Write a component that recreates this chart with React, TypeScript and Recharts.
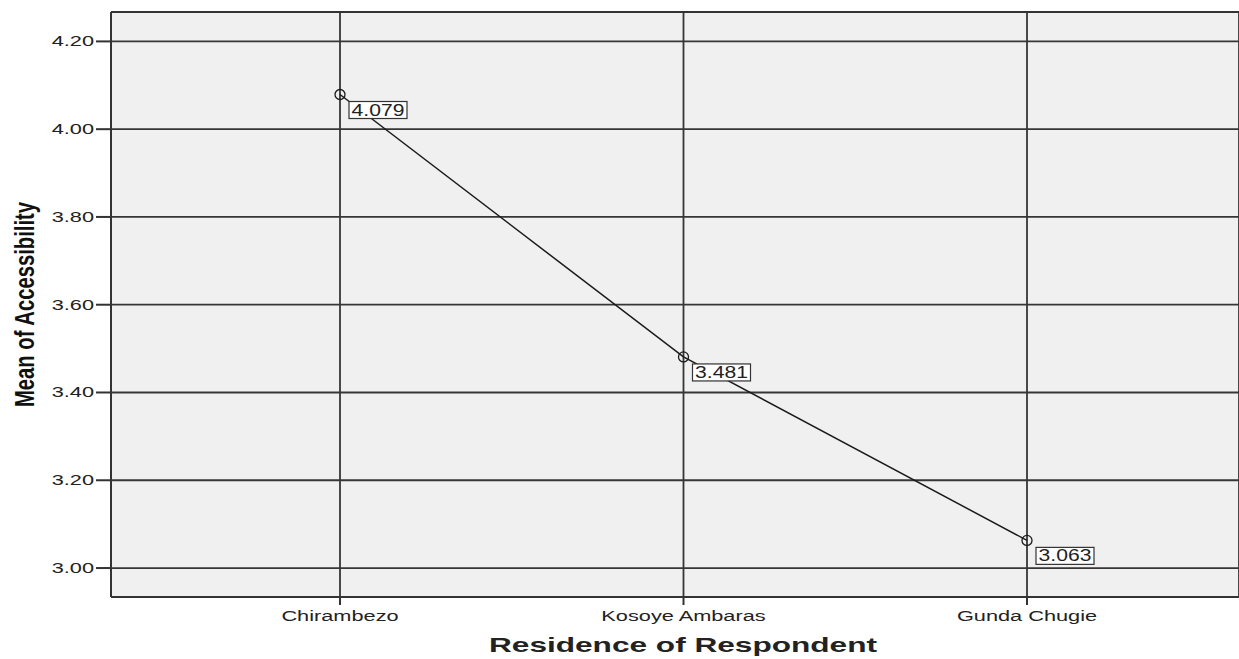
import { LineChart, Line, XAxis, YAxis, CartesianGrid, LabelList, ReferenceLine } from 'recharts'

const RESIDENCES = ['Chirambezo', 'Kosoye Ambaras', 'Gunda Chugie']
const MEAN_ACCESSIBILITY = [4.079, 3.481, 3.063]
const Y_TICKS = [3.0, 3.2, 3.4, 3.6, 3.8, 4.0, 4.2]

const data = RESIDENCES.map((name, i) => ({ name, mean: MEAN_ACCESSIBILITY[i] }))

const FONT = '"Liberation Sans", Arial, sans-serif'
const INK = '#222'

// the reference text is stretched sideways, so scale glyphs along x
function WideText({ x, y, s, anchor, size, bold, children }: any) {
  return (
    <text
      transform={`translate(${x},${y}) scale(${s},1)`}
      textAnchor={anchor} fontSize={size} fontWeight={bold ? 700 : 400}
      fontFamily={FONT} fill={INK}
    >
      {children}
    </text>
  )
}

function XTick(props: any) {
  const { x, y, payload } = props
  return <WideText x={x} y={y + 14} s={1.45} anchor="middle" size={15}>{payload.value}</WideText>
}

function YTick(props: any) {
  const { x, y, payload } = props
  return <WideText x={x} y={y + 5} s={1.45} anchor="end" size={15}>{Number(payload.value).toFixed(2)}</WideText>
}

function ValueTag(props: any) {
  const { x, y, value } = props
  const w = 58
  const h = 17
  return (
    <g>
      <rect x={x + 9} y={y + 7} width={w} height={h} fill="#fff" stroke="#333" strokeWidth={1.2} />
      <WideText x={x + 9 + w / 2} y={y + 7 + h - 3} s={1.32} anchor="middle" size={16}>
        {Number(value).toFixed(3)}
      </WideText>
    </g>
  )
}

function XTitle(props: any) {
  const vb = props.viewBox
  return (
    <WideText x={vb.x + vb.width / 2 + 8} y={vb.y + 55} s={1.58} anchor="middle" size={20} bold>
      Residence of Respondent
    </WideText>
  )
}

function YTitle(props: any) {
  const vb = props.viewBox
  const cx = 25
  const cy = vb.y + vb.height / 2
  return (
    <text
      x={cx} y={cy} transform={`rotate(-90 ${cx} ${cy})`} textAnchor="middle" dominantBaseline="central"
      fontSize={27} fontWeight={700} fontFamily={FONT} fill="#111"
      textLength={205} lengthAdjust="spacingAndGlyphs"
    >
      Mean of Accessibility
    </text>
  )
}

export default function App() {
  return (
    <div style={{ position: 'absolute', left: 0, top: 0, width: 1239, height: 659, background: '#fff' }}>
      <LineChart width={1239} height={659} data={data} margin={{ top: 12, right: 0, bottom: 0, left: 0 }}>
        <CartesianGrid fill="#f0f0f0" stroke="#363636" strokeWidth={1.8} />
        <XAxis
          dataKey="name"
          height={62}
          padding={{ left: 229, right: 212 }}
          tickSize={8}
          tickLine={{ stroke: '#333', strokeWidth: 2 }}
          axisLine={{ stroke: '#333', strokeWidth: 2 }}
          tick={<XTick />}
          label={<XTitle />}
        />
        <YAxis
          type="number"
          domain={[2.934, 4.267]}
          ticks={Y_TICKS}
          width={111}
          tickSize={15}
          tickLine={{ stroke: '#333', strokeWidth: 2 }}
          axisLine={{ stroke: '#333', strokeWidth: 2 }}
          tick={<YTick />}
          label={<YTitle />}
        />
        <ReferenceLine y={4.267} stroke="#333" strokeWidth={2} />
        <Line
          dataKey="mean"
          stroke="#1a1a1a"
          strokeWidth={1.5}
          dot={{ r: 5, fill: 'none', stroke: '#1a1a1a', strokeWidth: 1.3 }}
          isAnimationActive={false}
        >
          <LabelList dataKey="mean" content={<ValueTag />} />
        </Line>
      </LineChart>
    </div>
  )
}
